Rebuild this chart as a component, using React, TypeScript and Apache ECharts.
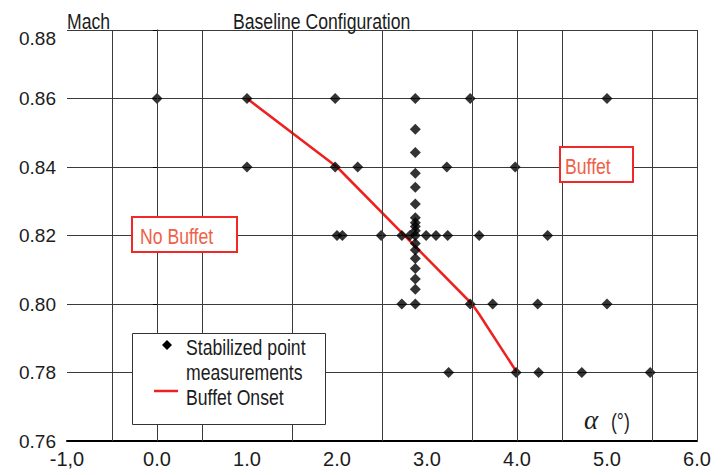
import React, { useEffect, useRef } from "react";
import * as echarts from "echarts";

// ---- data ----
const xTickValues = [-1, 0, 1, 2, 3, 4, 5, 6];
const xTickLabels = ["-1,0", "0.0", "1.0", "2.0", "3.0", "4.0", "5.0", "6.0"];
const yTickValues = [0.76, 0.78, 0.8, 0.82, 0.84, 0.86, 0.88];
const yTickLabels = ["0.76", "0.78", "0.80", "0.82", "0.84", "0.86", "0.88"];
const verticalGridAlpha = [-0.5, 0, 0.5, 1.5, 2.5, 3.5, 4.0, 4.5, 5.5, 6.0];

const row086Alpha = [0.0, 1.0, 1.98, 2.87, 3.48, 5.0];
const row084Alpha = [1.0, 1.98, 2.23, 3.22, 3.98];
const row082Alpha = [2.0, 2.06, 2.49, 2.72, 2.81, 2.87, 2.99, 3.1, 3.23, 3.58, 4.34];
const row080Alpha = [2.72, 2.87, 3.48, 3.73, 4.23, 5.0];
const row078Alpha = [3.24, 3.99, 4.24, 4.72, 5.48];
const sweepAlpha = 2.87;
const sweepMach = [0.851, 0.8442, 0.8382, 0.8341, 0.8292, 0.8252, 0.8237, 0.8226, 0.8214, 0.8177, 0.8158, 0.8133, 0.8104, 0.8073, 0.8043];

const onsetAlpha = [1.0, 2.0, 3.5, 3.58, 4.0];
const onsetMach = [0.86, 0.84, 0.8, 0.797, 0.78];

const SANS = "'Liberation Sans', Arial, sans-serif";
const TXT = "#1c1c1c";
const NX = 0.82; // horizontal squeeze to emulate a condensed face

export default function App() {
  const ref = useRef<HTMLDivElement>(null);
  useEffect(() => {
    if (!ref.current) return;
    const chart = echarts.init(ref.current, undefined, { renderer: "svg" });
    const points: number[][] = [];
    row086Alpha.forEach((a) => points.push([a, 0.86]));
    row084Alpha.forEach((a) => points.push([a, 0.84]));
    row082Alpha.forEach((a) => points.push([a, 0.82]));
    row080Alpha.forEach((a) => points.push([a, 0.8]));
    row078Alpha.forEach((a) => points.push([a, 0.78]));
    sweepMach.forEach((m) => points.push([sweepAlpha, m]));
    const onset = onsetAlpha.map((a, i) => [a, onsetMach[i]]);

    const gridColor = "#3a3a3a";
    const narrowText = (text: string, x: number, y: number, fill = TXT, size = 21.5) => ({
      type: "text",
      x,
      y,
      scaleX: NX,
      z: 11,
      style: { text, fontSize: size, fontFamily: SANS, fill, verticalAlign: "middle" },
    });
    const option: any = {
      animation: false,
      backgroundColor: "#fff",
      grid: { left: 67, right: 27, top: 30, bottom: 34, containLabel: false },
      xAxis: {
        type: "value",
        min: -1,
        max: 6,
        interval: 1,
        axisLine: { show: true, onZero: false, lineStyle: { color: "#000", width: 2 } },
        axisTick: { show: false },
        splitLine: { show: false },
        axisLabel: {
          margin: 8,
          fontSize: 20,
          fontFamily: SANS,
          color: TXT,
          formatter: (v: number) => {
            const i = xTickValues.findIndex((t) => Math.abs(t - v) < 1e-6);
            return i >= 0 ? xTickLabels[i] : "";
          },
        },
      },
      yAxis: {
        type: "value",
        min: 0.76,
        max: 0.88,
        interval: 0.02,
        axisLine: { show: true, lineStyle: { color: "#000", width: 1 } },
        axisTick: { show: true, inside: false, length: 4, lineStyle: { color: "#000" } },
        splitLine: { show: true, lineStyle: { color: gridColor, width: 1 } },
        axisLabel: {
          margin: 11,
          fontSize: 19,
          fontFamily: SANS,
          color: TXT,
          formatter: (v: number) => {
            const i = yTickValues.findIndex((t) => Math.abs(t - v) < 1e-6);
            const s = i >= 0 ? yTickLabels[i] : "";
            if (i === yTickValues.length - 1) return `{top|${s}}`;
            return s;
          },
          rich: {
            top: { fontSize: 19, fontFamily: SANS, color: TXT, padding: [16, 0, 0, 0], lineHeight: 22 },
          },
        },
      },
      series: [
        {
          type: "scatter",
          name: "grid",
          data: [],
          z: 1,
          silent: true,
          markLine: {
            silent: true,
            symbol: ["none", "none"],
            label: { show: false },
            lineStyle: { color: gridColor, width: 1, type: "solid" },
            data: verticalGridAlpha.map((a) => ({ xAxis: a })),
          },
        },
        {
          type: "line",
          name: "Buffet Onset",
          data: onset,
          z: 3,
          symbol: "none",
          lineStyle: { color: "#ee2020", width: 2.5 },
        },
        {
          type: "scatter",
          name: "Stabilized point measurements",
          data: points,
          z: 4,
          symbol: "diamond",
          symbolSize: 11,
          itemStyle: { color: "#000" },
        },
      ],
      graphic: [
        narrowText("Mach", 67, 21),
        narrowText("Baseline Configuration", 233, 21),
        // No Buffet box
        { type: "rect", shape: { x: 132, y: 217, width: 105, height: 35 }, style: { fill: "#fff", stroke: "#f02828", lineWidth: 2 }, z: 10 },
        narrowText("No Buffet", 140, 236, "#f06048"),
        // Buffet box
        { type: "rect", shape: { x: 560, y: 147, width: 73, height: 35 }, style: { fill: "#fff", stroke: "#f02828", lineWidth: 2 }, z: 10 },
        narrowText("Buffet", 565, 166, "#f06048"),
        // alpha label
        { type: "text", x: 584, y: 420, z: 11, style: { text: "\u03b1", font: "italic 27px 'Liberation Serif', 'DejaVu Serif', serif", fill: TXT, verticalAlign: "middle" } },
        narrowText("(\u00b0)", 611, 421),
        // legend
        { type: "rect", shape: { x: 132.5, y: 333.5, width: 193, height: 91 }, style: { fill: "#fff", stroke: "#333", lineWidth: 1 }, z: 10 },
        { type: "polygon", shape: { points: [[167, 340], [172, 345], [167, 350], [162, 345]] }, style: { fill: "#000" }, z: 11 },
        { type: "line", shape: { x1: 154, y1: 391, x2: 178, y2: 391 }, style: { stroke: "#ee2020", lineWidth: 2.5 }, z: 11 },
        narrowText("Stabilized point", 186, 347),
        narrowText("measurements", 186, 372),
        narrowText("Buffet Onset", 186, 397),
      ],
    };
    chart.setOption(option);
    return () => chart.dispose();
  }, []);
  return <div ref={ref} style={{ width: 724, height: 475, position: "absolute", left: 0, top: 0 }} />;
}
